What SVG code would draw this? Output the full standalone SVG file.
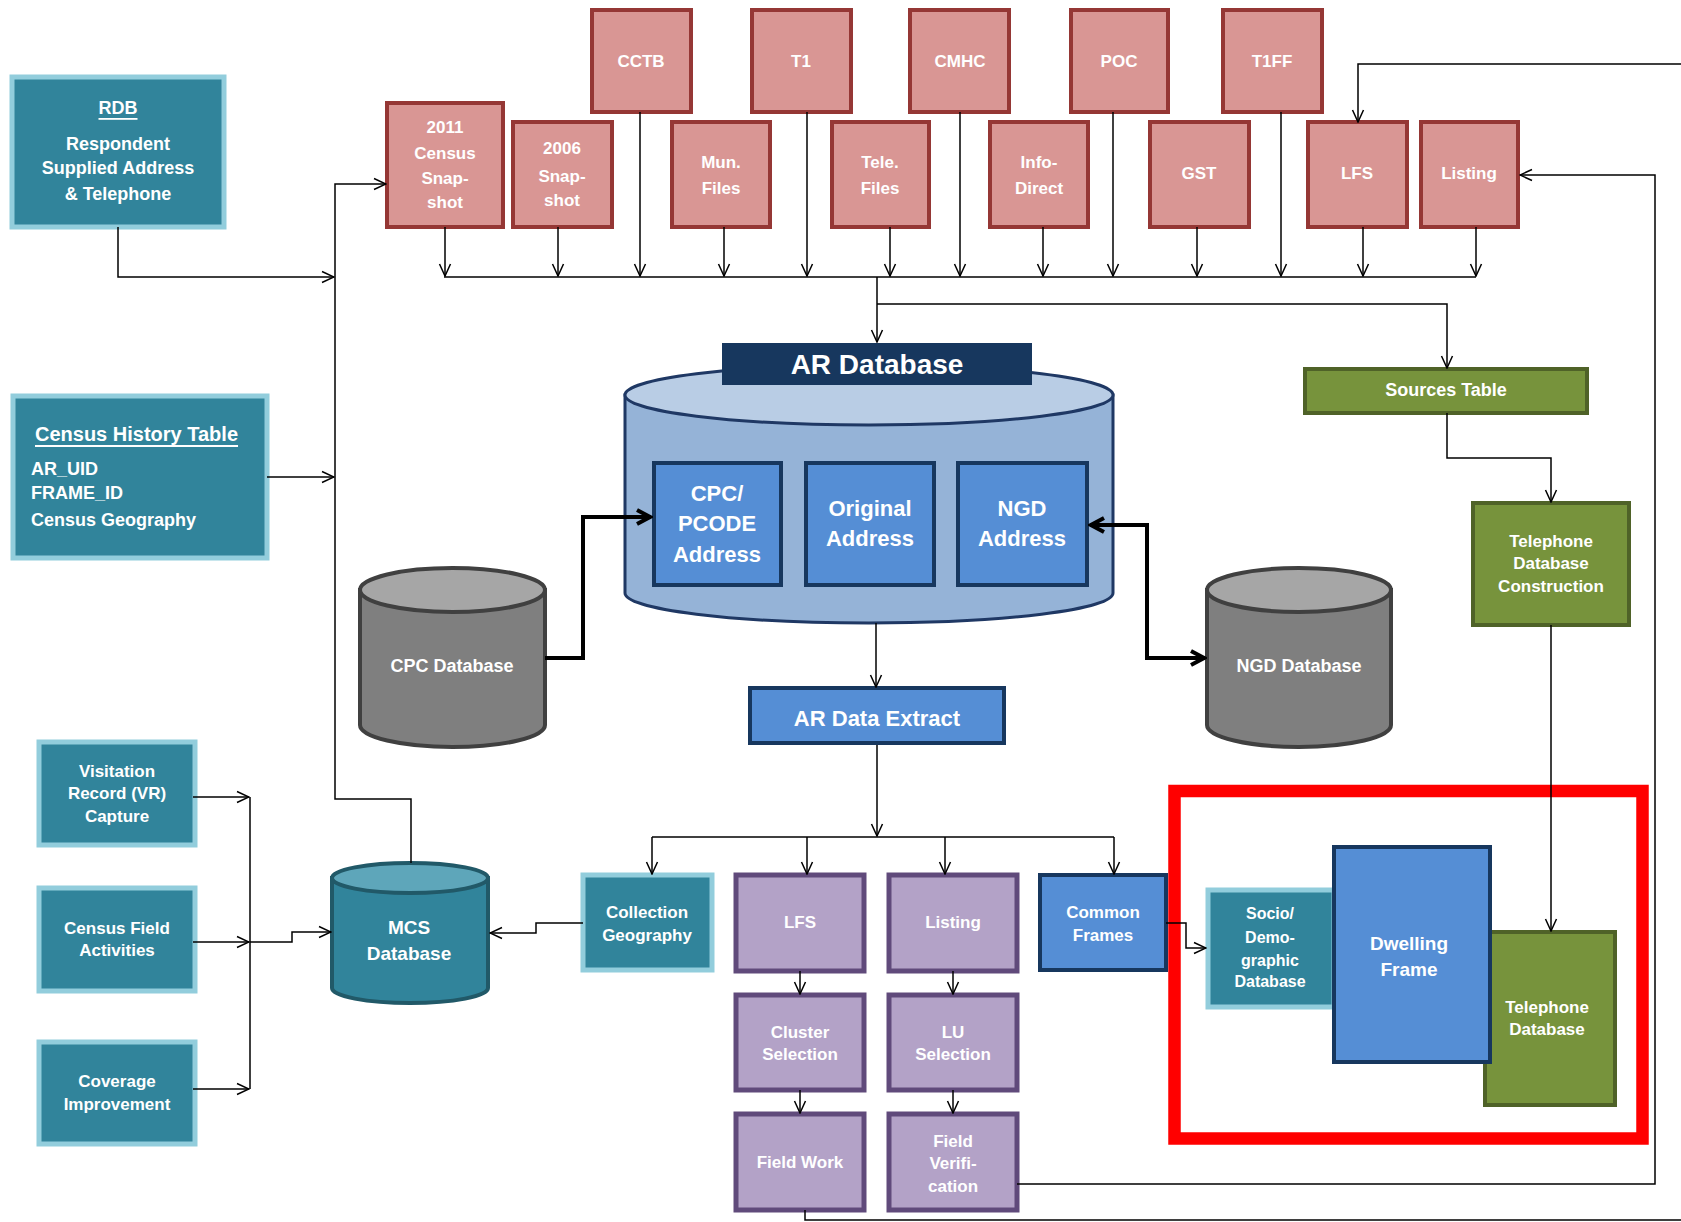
<svg xmlns="http://www.w3.org/2000/svg" width="1681" height="1222" viewBox="0 0 1681 1222">
<style>
.t{font-family:"Liberation Sans",Arial,sans-serif;font-weight:bold;text-anchor:middle;dominant-baseline:central;fill:#ffffff}
.tl{text-anchor:start}
.u{text-decoration:underline}
.red{fill:#d99694;stroke:#953735;stroke-width:4}
.teal{fill:#31849b;stroke:#92cddc;stroke-width:5}
.blue{fill:#558ed5;stroke:#17375e;stroke-width:4}
.green{fill:#77933c;stroke:#4f6228;stroke-width:4}
.purple{fill:#b3a2c7;stroke:#604a7b;stroke-width:5}
.gbody{fill:#7f7f7f;stroke:#404040;stroke-width:4}
.gtop{fill:#a6a6a6;stroke:#404040;stroke-width:4}
.c{fill:none;stroke:#000;stroke-width:1.5}
.k{fill:none;stroke:#000;stroke-width:4}
.s17{font-size:17px}
.s18{font-size:18px}
</style>
<defs>
<marker id="a" viewBox="0 0 14 14" refX="13" refY="7" markerWidth="14" markerHeight="14" markerUnits="userSpaceOnUse" orient="auto"><path d="M1,1.5 L13,7 L1,12.5" fill="none" stroke="#000" stroke-width="1.5"/></marker>
<marker id="b" viewBox="0 0 20 20" refX="18" refY="10" markerWidth="20" markerHeight="20" markerUnits="userSpaceOnUse" orient="auto-start-reverse"><path d="M4,3 L17,10 L4,17" fill="none" stroke="#000" stroke-width="4"/></marker>
</defs>
<rect width="1681" height="1222" fill="#ffffff"/>

<g id="rdb">
<rect class="teal" x="12" y="77" width="212" height="150"/>
<text class="t s18 u" x="118" y="108">RDB</text>
<text class="t s18" x="118" y="144">Respondent</text>
<text class="t s18" x="118" y="168">Supplied Address</text>
<text class="t s18" x="118" y="194">&amp; Telephone</text>
</g>

<g id="census-history">
<rect class="teal" x="13" y="396" width="254" height="162"/>
<text class="t tl u" x="35" y="434" font-size="20">Census History Table</text>
<text class="t tl s18" x="31" y="469">AR_UID</text>
<text class="t tl s18" x="31" y="493">FRAME_ID</text>
<text class="t tl s18" x="31" y="520">Census Geography</text>
</g>

<g id="cctb"><rect class="red" x="592" y="10" width="99" height="102"/><text class="t s17" x="641" y="61">CCTB</text></g>
<g id="t1"><rect class="red" x="752" y="10" width="99" height="102"/><text class="t s17" x="801" y="61">T1</text></g>
<g id="cmhc"><rect class="red" x="910" y="10" width="99" height="102"/><text class="t s17" x="960" y="61">CMHC</text></g>
<g id="poc"><rect class="red" x="1071" y="10" width="97" height="102"/><text class="t s17" x="1119" y="61">POC</text></g>
<g id="t1ff"><rect class="red" x="1223" y="10" width="99" height="102"/><text class="t s17" x="1272" y="61">T1FF</text></g>

<g id="census2011"><rect class="red" x="387" y="103" width="116" height="124"/>
<text class="t s17" x="445" y="127">2011</text><text class="t s17" x="445" y="153">Census</text><text class="t s17" x="445" y="178">Snap-</text><text class="t s17" x="445" y="202">shot</text></g>
<g id="snap2006"><rect class="red" x="513" y="122" width="99" height="105"/>
<text class="t s17" x="562" y="148">2006</text><text class="t s17" x="562" y="176">Snap-</text><text class="t s17" x="562" y="200">shot</text></g>
<g id="mun"><rect class="red" x="672" y="122" width="98" height="105"/>
<text class="t s17" x="721" y="162">Mun.</text><text class="t s17" x="721" y="188">Files</text></g>
<g id="tele"><rect class="red" x="832" y="122" width="97" height="105"/>
<text class="t s17" x="880" y="162">Tele.</text><text class="t s17" x="880" y="188">Files</text></g>
<g id="info"><rect class="red" x="990" y="122" width="98" height="105"/>
<text class="t s17" x="1039" y="162">Info-</text><text class="t s17" x="1039" y="188">Direct</text></g>
<g id="gst"><rect class="red" x="1150" y="122" width="99" height="105"/><text class="t s17" x="1199" y="173">GST</text></g>
<g id="lfs-src"><rect class="red" x="1308" y="122" width="99" height="105"/><text class="t s17" x="1357" y="173">LFS</text></g>
<g id="listing-src"><rect class="red" x="1421" y="122" width="97" height="105"/><text class="t s17" x="1469" y="173">Listing</text></g>

<g id="ar-database">
<path d="M625,395 V593 A244,30 0 0 0 1113,593 V395 Z" fill="#95b3d7" stroke="#1f3864" stroke-width="3"/>
<ellipse cx="869" cy="395" rx="244" ry="30" fill="#b9cde5" stroke="#1f3864" stroke-width="3"/>
<rect x="722" y="343" width="310" height="42" fill="#17375e"/>
<text class="t" x="877" y="364" font-size="28">AR Database</text>
</g>
<g id="cpc-pcode"><rect class="blue" x="654" y="463" width="127" height="122"/>
<text class="t" x="717" y="493" font-size="22">CPC/</text><text class="t" x="717" y="523" font-size="22">PCODE</text><text class="t" x="717" y="554" font-size="22">Address</text></g>
<g id="original-address"><rect class="blue" x="806" y="463" width="128" height="122"/>
<text class="t" x="870" y="508" font-size="22">Original</text><text class="t" x="870" y="538" font-size="22">Address</text></g>
<g id="ngd-address"><rect class="blue" x="958" y="463" width="129" height="122"/>
<text class="t" x="1022" y="508" font-size="22">NGD</text><text class="t" x="1022" y="538" font-size="22">Address</text></g>

<g id="cpc-database">
<path class="gbody" d="M360,590 V725 A92.5,22 0 0 0 545,725 V590 Z"/>
<ellipse class="gtop" cx="452.5" cy="590" rx="92.5" ry="22"/>
<text class="t s18" x="452" y="666">CPC Database</text>
</g>
<g id="ngd-database">
<path class="gbody" d="M1207,590 V725 A92,22 0 0 0 1391,725 V590 Z"/>
<ellipse class="gtop" cx="1299" cy="590" rx="92" ry="22"/>
<text class="t s18" x="1299" y="666">NGD Database</text>
</g>

<g id="sources-table"><rect class="green" x="1305" y="369" width="282" height="44"/><text class="t s18" x="1446" y="390">Sources Table</text></g>
<g id="tel-db-construction"><rect class="green" x="1473" y="503" width="156" height="122"/>
<text class="t s17" x="1551" y="541">Telephone</text><text class="t s17" x="1551" y="563">Database</text><text class="t s17" x="1551" y="586">Construction</text></g>

<g id="ar-data-extract"><rect class="blue" x="750" y="688" width="254" height="55"/><text class="t" x="877" y="718" font-size="22">AR Data Extract</text></g>

<g id="visitation"><rect class="teal" x="39" y="742" width="156" height="103"/>
<text class="t s17" x="117" y="771">Visitation</text><text class="t s17" x="117" y="793">Record (VR)</text><text class="t s17" x="117" y="816">Capture</text></g>
<g id="census-field"><rect class="teal" x="39" y="888" width="156" height="103"/>
<text class="t s17" x="117" y="928">Census Field</text><text class="t s17" x="117" y="950">Activities</text></g>
<g id="coverage"><rect class="teal" x="39" y="1042" width="156" height="102"/>
<text class="t s17" x="117" y="1081">Coverage</text><text class="t s17" x="117" y="1104">Improvement</text></g>

<g id="mcs-database">
<path d="M332,878 V988 A78,15 0 0 0 488,988 V878 Z" fill="#31849b" stroke="#215968" stroke-width="4"/>
<ellipse cx="410" cy="878" rx="78" ry="15" fill="#5ea6ba" stroke="#215968" stroke-width="4"/>
<text class="t" x="409" y="927" font-size="19">MCS</text><text class="t" x="409" y="953" font-size="19">Database</text>
</g>

<g id="collection-geography"><rect class="teal" x="583" y="875" width="129" height="95"/>
<text class="t s17" x="647" y="912">Collection</text><text class="t s17" x="647" y="935">Geography</text></g>
<g id="lfs"><rect class="purple" x="736" y="875" width="128" height="96"/><text class="t s17" x="800" y="922">LFS</text></g>
<g id="listing"><rect class="purple" x="889" y="875" width="128" height="96"/><text class="t s17" x="953" y="922">Listing</text></g>
<g id="common-frames"><rect class="blue" x="1040" y="875" width="126" height="95"/>
<text class="t s17" x="1103" y="912">Common</text><text class="t s17" x="1103" y="935">Frames</text></g>
<g id="cluster-selection"><rect class="purple" x="736" y="995" width="128" height="95"/>
<text class="t s17" x="800" y="1032">Cluster</text><text class="t s17" x="800" y="1054">Selection</text></g>
<g id="lu-selection"><rect class="purple" x="889" y="995" width="128" height="95"/>
<text class="t s17" x="953" y="1032">LU</text><text class="t s17" x="953" y="1054">Selection</text></g>
<g id="field-work"><rect class="purple" x="736" y="1114" width="128" height="96"/><text class="t s17" x="800" y="1162">Field Work</text></g>
<g id="field-verification"><rect class="purple" x="889" y="1114" width="128" height="96"/>
<text class="t s17" x="953" y="1141">Field</text><text class="t s17" x="953" y="1163">Verifi-</text><text class="t s17" x="953" y="1186">cation</text></g>

<g id="socio-demographic"><rect class="teal" x="1208" y="890" width="126" height="117"/>
<text class="t" x="1270" y="913" font-size="16">Socio/</text><text class="t" x="1270" y="937" font-size="16">Demo-</text><text class="t" x="1270" y="960" font-size="16">graphic</text><text class="t" x="1270" y="981" font-size="16">Database</text></g>
<g id="telephone-database"><rect class="green" x="1485" y="932" width="130" height="173"/>
<text class="t s17" x="1547" y="1007">Telephone</text><text class="t s17" x="1547" y="1029">Database</text></g>
<g id="dwelling-frame"><rect class="blue" x="1334" y="847" width="156" height="215"/>
<text class="t" x="1409" y="943" font-size="19">Dwelling</text><text class="t" x="1409" y="969" font-size="19">Frame</text></g>

<rect id="highlight" x="1174.5" y="791" width="468" height="347.5" fill="none" stroke="#ff0000" stroke-width="12.5"/>

<g id="connectors">
<path class="c" d="M118,227 V277 H334" marker-end="url(#a)"/>
<path class="c" d="M267,477 H334" marker-end="url(#a)"/>
<path class="c" d="M411,863 V799 H335 V184 H386" marker-end="url(#a)"/>
<path class="c" d="M444,277 H1476"/>
<path class="c" d="M445,227 V276" marker-end="url(#a)"/>
<path class="c" d="M558,227 V276" marker-end="url(#a)"/>
<path class="c" d="M640,112 V276" marker-end="url(#a)"/>
<path class="c" d="M724,227 V276" marker-end="url(#a)"/>
<path class="c" d="M807,112 V276" marker-end="url(#a)"/>
<path class="c" d="M890,227 V276" marker-end="url(#a)"/>
<path class="c" d="M960,112 V276" marker-end="url(#a)"/>
<path class="c" d="M1043,227 V276" marker-end="url(#a)"/>
<path class="c" d="M1113,112 V276" marker-end="url(#a)"/>
<path class="c" d="M1197,227 V276" marker-end="url(#a)"/>
<path class="c" d="M1281,112 V276" marker-end="url(#a)"/>
<path class="c" d="M1363,227 V276" marker-end="url(#a)"/>
<path class="c" d="M1476,227 V276" marker-end="url(#a)"/>
<path class="c" d="M877,277 V342" marker-end="url(#a)"/>
<path class="c" d="M877,304 H1447 V368" marker-end="url(#a)"/>
<path class="c" d="M1447,413 V458 H1551 V502" marker-end="url(#a)"/>
<path class="c" d="M1551,625 V931" marker-end="url(#a)"/>
<path class="c" d="M876,623 V687" marker-end="url(#a)"/>
<path class="c" d="M877,745 V836" marker-end="url(#a)"/>
<path class="c" d="M652,837 H1114"/>
<path class="c" d="M652,837 V874" marker-end="url(#a)"/>
<path class="c" d="M807,837 V874" marker-end="url(#a)"/>
<path class="c" d="M945,837 V874" marker-end="url(#a)"/>
<path class="c" d="M1114,837 V874" marker-end="url(#a)"/>
<path class="c" d="M800,971 V994" marker-end="url(#a)"/>
<path class="c" d="M800,1090 V1113" marker-end="url(#a)"/>
<path class="c" d="M953,971 V994" marker-end="url(#a)"/>
<path class="c" d="M953,1090 V1113" marker-end="url(#a)"/>
<path class="c" d="M1017,1184 H1655 V175 H1520" marker-end="url(#a)" stroke="#333"/>
<path class="c" d="M805,1210 V1220 H1681" stroke="#888"/>
<path class="c" d="M1681,64 H1358 V122" marker-end="url(#a)"/>
<path class="c" d="M583,923 H536 V933 H490" marker-end="url(#a)"/>
<path class="c" d="M193,797 H249" marker-end="url(#a)"/>
<path class="c" d="M193,942 H249" marker-end="url(#a)"/>
<path class="c" d="M193,1089 H249" marker-end="url(#a)"/>
<path class="c" d="M250,797 V1089"/>
<path class="c" d="M250,942 H292 V932 H331" marker-end="url(#a)"/>
<path class="c" d="M1166,923 H1186 V948 H1206" marker-end="url(#a)"/>
<path class="k" d="M545,658 H583 V517 H651" marker-end="url(#b)"/>
<path class="k" d="M1090,525 H1147 V658 H1205" marker-start="url(#b)" marker-end="url(#b)"/>
</g>
</svg>
